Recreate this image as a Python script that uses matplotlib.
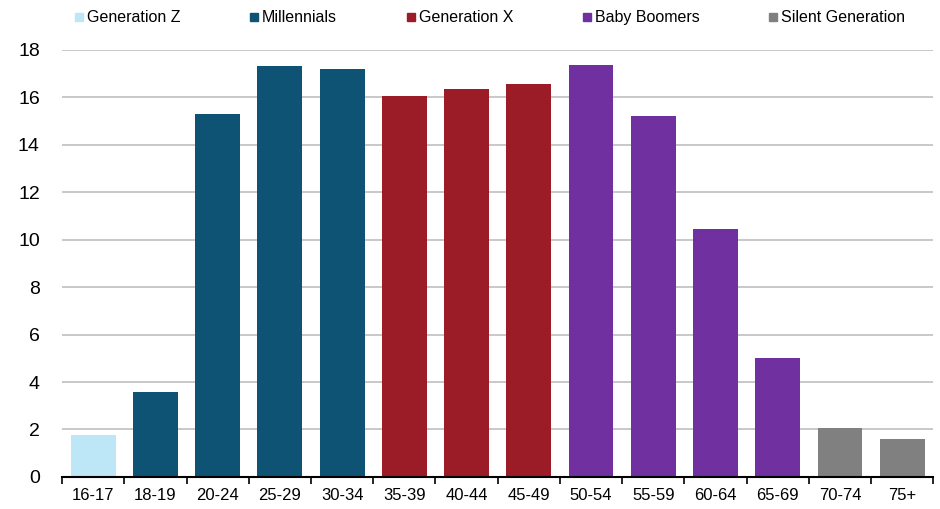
import numpy as np
import matplotlib.pyplot as plt
from matplotlib.lines import Line2D

plt.rcParams['font.family'] = ['Liberation Sans', 'DejaVu Sans']

ages = ["16-17", "18-19", "20-24", "25-29", "30-34", "35-39", "40-44",
        "45-49", "50-54", "55-59", "60-64", "65-69", "70-74", "75+"]
values = [1.77, 3.58, 15.3, 17.3, 17.2, 16.06, 16.36, 16.57, 17.37, 15.22,
          10.46, 5.02, 2.07, 1.6]
generation = ["Generation Z", "Millennials", "Millennials", "Millennials", "Millennials",
              "Generation X", "Generation X", "Generation X",
              "Baby Boomers", "Baby Boomers", "Baby Boomers", "Baby Boomers",
              "Silent Generation", "Silent Generation"]
gen_names = ["Generation Z", "Millennials", "Generation X", "Baby Boomers", "Silent Generation"]
gen_colors = {"Generation Z": "#BDE6F7", "Millennials": "#0E5374", "Generation X": "#9B1C27",
              "Baby Boomers": "#7030A0", "Silent Generation": "#808080"}

fig = plt.figure(figsize=(9.4, 5.09), dpi=100)
ax = fig.add_axes([0.066, 0.063, 0.927, 0.839])

x = np.arange(len(ages))
ax.bar(x, values, 0.72, color=[gen_colors[g] for g in generation], zorder=2)

ax.set_xlim(-0.5, len(ages) - 0.5)
ax.set_ylim(0, 18)
ax.set_yticks(range(0, 19, 2))
ax.yaxis.grid(True, color="#BFBFBF", linewidth=1.2, zorder=0)
ax.tick_params(axis="y", length=0, labelsize=14, pad=16)
ax.set_xticks(x)
ax.set_xticklabels(ages)
ax.tick_params(axis="x", length=0, labelsize=12, pad=8)
ax.set_xticks(np.arange(-0.5, len(ages)), minor=True)
ax.tick_params(axis="x", which="minor", length=5, width=1.2, direction="out")
for s in ["top", "right", "left"]:
    ax.spines[s].set_visible(False)
ax.spines["bottom"].set_linewidth(1.5)

handles = [Line2D([], [], marker="s", linestyle="none", markersize=6,
                  color=gen_colors[g]) for g in gen_names]
fig.legend(handles, gen_names, loc="center", bbox_to_anchor=(0.52, 0.965), ncol=5,
           frameon=False, fontsize=11.5, handletextpad=0.1, columnspacing=4.2,
           handlelength=0.8)

fig.savefig("out.png", dpi=100)
